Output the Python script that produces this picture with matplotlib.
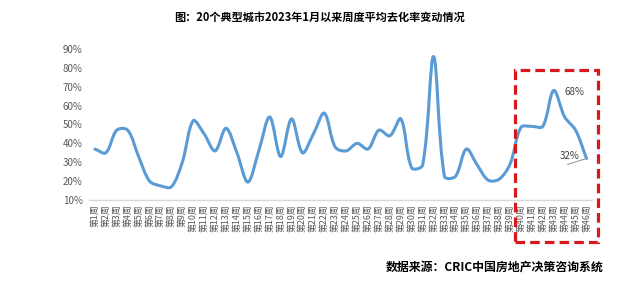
import numpy as np
import matplotlib
matplotlib.use("Agg")
import matplotlib.pyplot as plt
from matplotlib.path import Path
from matplotlib.patches import PathPatch, Rectangle

plt.rcParams['font.family'] = ['Noto Sans CJK SC', 'DejaVu Sans']

# 周度平均去化率 (%)
weeks = [f"第{i}周" for i in range(1, 47)]
rate = [37, 35, 47, 47, 33, 20, 17.5, 17, 30, 52,
        45, 36, 48, 35, 19.5, 36, 54, 33, 53, 35,
        45, 56, 38, 36, 40, 37, 47, 44, 53, 27,
        28.5, 86, 22.5, 22.5, 37, 28.5, 20.5, 21, 29, 48.5,
        49, 49, 68, 54, 47, 32]
y_ticks = [10, 20, 30, 40, 50, 60, 70, 80, 90]

title = "图：20个典型城市2023年1月以来周度平均去化率变动情况"
source = "数据来源：CRIC中国房地产决策咨询系统"

fig = plt.figure(figsize=(6.39, 2.88), dpi=100)
ax = fig.add_axes([0.140, 0.3056, 0.7864, 0.5243])

# smoothed line (bezier, tangents weighted by segment length in screen space)
sx, sy = 10.93, 1.8875  # px per week / px per percent
x = np.arange(len(rate), dtype=float) * sx
y = np.array(rate, dtype=float) * sy
px = np.concatenate([[x[0]], x, [x[-1]]])
py = np.concatenate([[y[0]], y, [y[-1]]])
d = np.hypot(np.diff(px), np.diff(py))
d[d == 0] = 1e-9
verts = [(x[0] / sx, y[0] / sy)]
codes = [Path.MOVETO]
for i in range(1, len(px) - 2):
    k1 = d[i] / (d[i - 1] + d[i]) / 3
    k2 = d[i] / (d[i] + d[i + 1]) / 3
    c1 = (px[i] + (px[i + 1] - px[i - 1]) * k1, py[i] + (py[i + 1] - py[i - 1]) * k1)
    c2 = (px[i + 1] - (px[i + 2] - px[i]) * k2, py[i + 1] - (py[i + 2] - py[i]) * k2)
    verts += [(c1[0] / sx, c1[1] / sy), (c2[0] / sx, c2[1] / sy), (px[i + 1] / sx, py[i + 1] / sy)]
    codes += [Path.CURVE4] * 3
ax.add_patch(PathPatch(Path(verts, codes), facecolor='none', edgecolor='#5B9BD5',
                       lw=2.2, capstyle='round', joinstyle='round', clip_on=False))

ax.set_xlim(-0.5, len(rate) - 0.5)
ax.set_ylim(10, 90)
ax.set_yticks(y_ticks)
ax.set_yticklabels([f"{v}%" for v in y_ticks], fontsize=7, color='#595959')
ax.set_xticks(range(len(weeks)))
ax.set_xticklabels(weeks, rotation=90, fontsize=6.4, color='#595959')
ax.tick_params(length=0, pad=5)
ax.tick_params(axis='x', pad=3)
for s in ['top', 'right', 'left']:
    ax.spines[s].set_visible(False)
ax.spines['bottom'].set_color('#D9D9D9')
ax.spines['bottom'].set_linewidth(1)

# data labels
ax.annotate("68%", (42, rate[42]), xytext=(21, -1), textcoords='offset pixels',
            ha='center', va='center', fontsize=7, color='#404040')
ax.annotate("32%", (45, rate[45]), xytext=(-17, 2), textcoords='offset pixels',
            ha='center', va='center', fontsize=7, color='#404040')
# leader line of the 32% label
ax.annotate("", xy=(45, rate[45]), xytext=(-19, -6), textcoords='offset pixels',
            arrowprops=dict(arrowstyle='-', color='#8C8C8C', lw=0.7,
                            shrinkA=0, shrinkB=1), zorder=5)

# red dashed highlight box
fig.patches.append(Rectangle((515 / 639, 1 - 241.5 / 288), 83 / 639, 171.5 / 288,
                             transform=fig.transFigure, fill=False,
                             edgecolor='#D7191C', lw=2.3, linestyle=(0, (3, 1.6))))

fig.text(320 / 639, 1 - 17 / 288, title, ha='center', va='center',
         fontsize=8, fontweight='bold', color='black')
fig.text(603 / 639, 1 - 267 / 288, source, ha='right', va='center',
         fontsize=8.6, fontweight='bold', color='black')

fig.savefig('out.png', dpi=100)
